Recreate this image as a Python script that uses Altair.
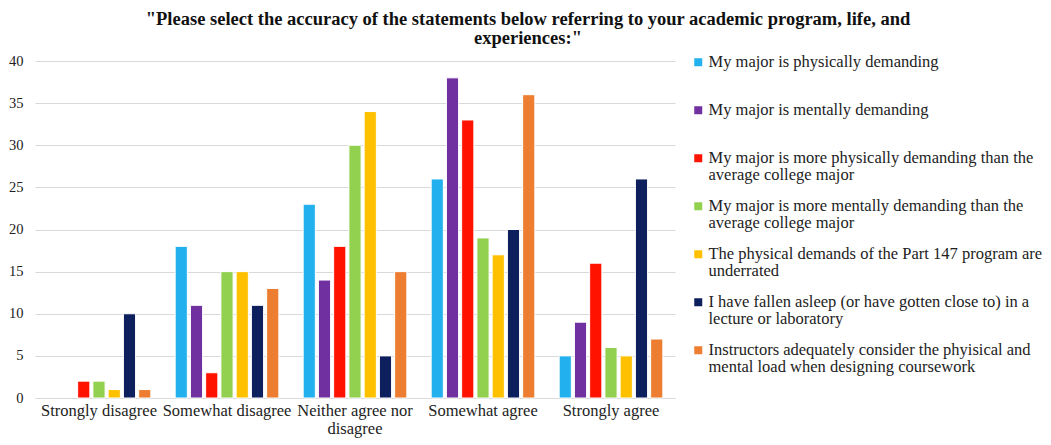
import altair as alt
import pandas as pd

# Response categories (x axis)
categories = [
    "Strongly disagree",
    "Somewhat disagree",
    "Neither agree nor disagree",
    "Somewhat agree",
    "Strongly agree",
]

# Statements (series)
series = [
    "My major is physically demanding",
    "My major is mentally demanding",
    "My major is more physically demanding than the average college major",
    "My major is more mentally demanding than the average college major",
    "The physical demands of the Part 147 program are underrated",
    "I have fallen asleep (or have gotten close to) in a lecture or laboratory",
    "Instructors adequately consider the phyisical and mental load when designing coursework",
]

# Counts per category, one list per statement
physically_demanding = [0, 18, 23, 26, 5]
mentally_demanding = [0, 11, 14, 38, 9]
more_physically = [2, 3, 18, 33, 16]
more_mentally = [2, 15, 30, 19, 6]
part147_underrated = [1, 15, 34, 17, 5]
fallen_asleep = [10, 11, 5, 20, 26]
instructors_consider = [1, 13, 15, 36, 7]

colors = ["#22B0EE", "#7030A0", "#FF1200", "#92D050", "#FFC000", "#0E1F5E", "#ED7D31"]

# Legend labels laid out on two lines each (blank second line keeps rows even)
legend_lines = {
    series[0]: ["My major is physically demanding", ""],
    series[1]: ["My major is mentally demanding", ""],
    series[2]: ["My major is more physically demanding than the", "average college major"],
    series[3]: ["My major is more mentally demanding than the", "average college major"],
    series[4]: ["The physical demands of the Part 147 program are", "underrated"],
    series[5]: ["I have fallen asleep (or have gotten close to) in a", "lecture or laboratory"],
    series[6]: ["Instructors adequately consider the phyisical and", "mental load when designing coursework"],
}

values = [
    physically_demanding,
    mentally_demanding,
    more_physically,
    more_mentally,
    part147_underrated,
    fallen_asleep,
    instructors_consider,
]

rows = []
for s, vals in zip(series, values):
    for c, v in zip(categories, vals):
        rows.append({"category": c, "series": s, "count": v})
df = pd.DataFrame(rows)


def js_str(s):
    return "'" + s.replace("'", "\\'") + "'"


legend_expr = ""
for name, lines in legend_lines.items():
    arr = "[" + ", ".join(js_str(l) for l in lines) + "]"
    legend_expr += f"datum.label == {js_str(name)} ? {arr} : "
legend_expr += "datum.label"

x_label_expr = "datum.value == 'Neither agree nor disagree' ? ['Neither agree nor', 'disagree'] : datum.label"

FONT = "Liberation Serif"

chart = (
    alt.Chart(df)
    .transform_filter("datum.count > 0")
    .mark_bar(stroke="white", strokeWidth=1)
    .encode(
        x=alt.X(
            "category:N",
            sort=categories,
            scale=alt.Scale(paddingInner=0.19, paddingOuter=0.095),
            axis=alt.Axis(
                title=None,
                labelAngle=0,
                labelExpr=x_label_expr,
                labelFont=FONT,
                labelFontSize=16.5,
                labelColor="#222222",
                labelPadding=4,
                labelLineHeight=18,
                ticks=False,
                domainColor="#D9D9D9",
                labelLimit=300,
            ),
        ),
        xOffset=alt.XOffset("series:N", sort=series, scale=alt.Scale(paddingInner=0.2)),
        y=alt.Y(
            "count:Q",
            scale=alt.Scale(domain=[0, 40]),
            axis=alt.Axis(
                title=None,
                values=list(range(0, 45, 5)),
                labelFont=FONT,
                labelFontSize=14.5,
                labelColor="#222222",
                labelPadding=12,
                ticks=False,
                domain=False,
                gridColor="#D9D9D9",
            ),
        ),
        color=alt.Color(
            "series:N",
            sort=series,
            scale=alt.Scale(domain=series, range=colors),
            legend=alt.Legend(
                title=None,
                orient="none",
                legendX=655,
                legendY=-7,
                symbolType="square",
                symbolSize=64,
                symbolStrokeWidth=0,
                labelFont=FONT,
                labelFontSize=16.5,
                labelColor="#222222",
                labelExpr=legend_expr,
                labelLimit=400,
                labelOffset=2,
                labelBaseline="middle",
                rowPadding=14,
                padding=0,
            ),
        ),
    )
    .properties(
        width=640,
        height=337,
        autosize=alt.AutoSizeParams(type="none"),
        padding={"left": 35, "top": 61, "right": 376, "bottom": 47},
        title=alt.TitleParams(
            text=[
                '"Please select the accuracy of the statements below referring to your academic program, life, and',
                'experiences:"',
            ],
            font=FONT,
            fontSize=18.5,
            fontWeight="bold",
            color="#111111",
            anchor="middle",
            dx=173,
            offset=6,
            lineHeight=19,
        ),
    )
    .configure(
        view=alt.ViewConfig(stroke=None),
        style={"guide-label": {"lineHeight": 17}},
    )
)

chart.save("out.html", embed_options={"renderer": "svg", "actions": False})
